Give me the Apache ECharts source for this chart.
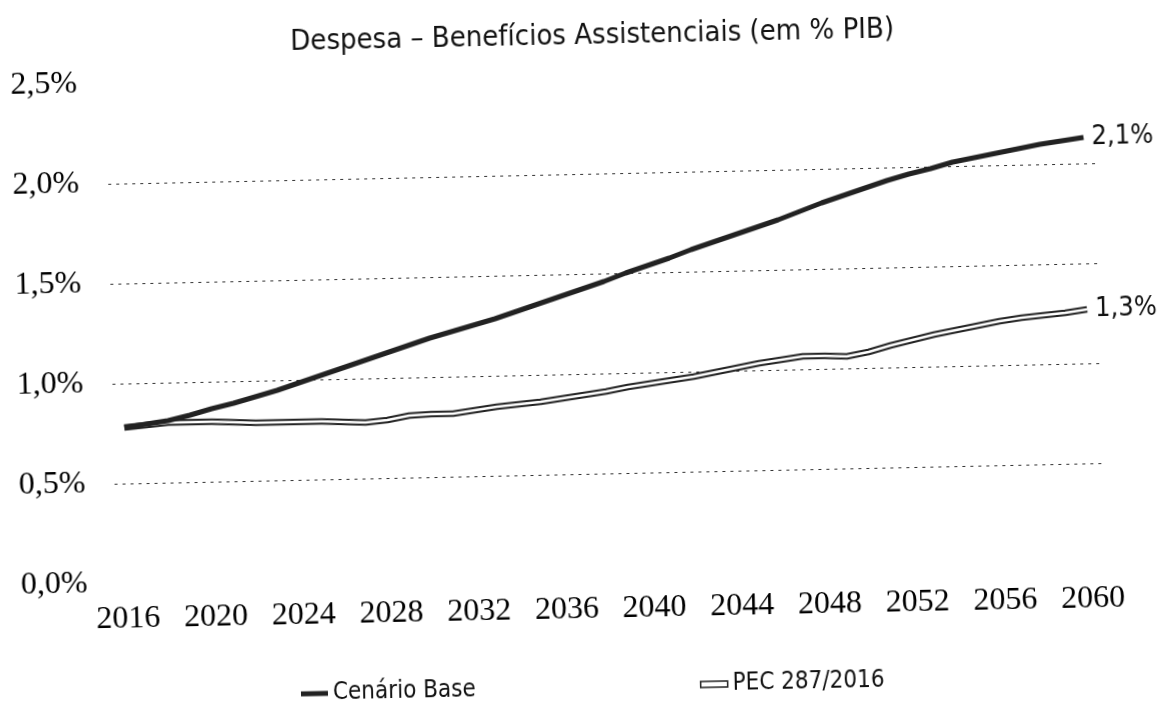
<!DOCTYPE html>
<html>
<head>
<meta charset="utf-8">
<title>Despesa – Benefícios Assistenciais</title>
<script src="https://cdn.jsdelivr.net/npm/echarts@6/dist/echarts.min.js"></script>
<style>
  html, body { margin: 0; padding: 0; background: #fff; }
  /* the scanned original sits a little crooked on the page */
  #chart { width: 1159px; height: 715px; transform: rotate(-1.2deg); }
</style>
</head>
<body>
<div id="chart"></div>
<script>
const YEARS = [
  '2016', '2017', '2018', '2019', '2020', '2021', '2022', '2023', '2024',
  '2025', '2026', '2027', '2028', '2029', '2030', '2031', '2032', '2033',
  '2034', '2035', '2036', '2037', '2038', '2039', '2040', '2041', '2042',
  '2043', '2044', '2045', '2046', '2047', '2048', '2049', '2050', '2051',
  '2052', '2053', '2054', '2055', '2056', '2057', '2058', '2059', '2060'
];

// % do PIB
const BASE = [
  0.78, 0.795, 0.81, 0.835, 0.865, 0.89, 0.92, 0.95, 0.985,
  1.02, 1.055, 1.09, 1.125, 1.16, 1.195, 1.225, 1.255, 1.285,
  1.32, 1.355, 1.39, 1.425, 1.46, 1.50, 1.535, 1.57, 1.61,
  1.645, 1.68, 1.715, 1.75, 1.79, 1.83, 1.865, 1.90, 1.935,
  1.965, 1.99, 2.02, 2.04, 2.06, 2.08, 2.10, 2.115, 2.13
];

const PEC = [
  0.78, 0.79, 0.80, 0.80, 0.80, 0.795, 0.79, 0.79, 0.79,
  0.79, 0.785, 0.78, 0.79, 0.81, 0.815, 0.815, 0.83, 0.845,
  0.855, 0.865, 0.88, 0.895, 0.91, 0.93, 0.945, 0.96, 0.975,
  0.995, 1.015, 1.035, 1.05, 1.065, 1.065, 1.06, 1.08, 1.11,
  1.135, 1.16, 1.18, 1.20, 1.22, 1.235, 1.245, 1.255, 1.27
];

const TITLE = 'Despesa – Benefícios Assistenciais (em % PIB)';
const NAME_BASE = 'Cenário Base';
const NAME_PEC = 'PEC 287/2016';

const NARROW = '"Liberation Sans Narrow", "Arial Narrow", "DejaVu Sans Condensed", sans-serif';
const SERIF = '"Liberation Serif", "Times New Roman", serif';
const INK = '#222';

const pct = (v) => v.toFixed(1).replace('.', ',') + '%';

const initOption = () => {
  return {
    backgroundColor: '#fff',
    animation: false,
    title: {
      text: TITLE,
      left: 297,
      top: 22,
      padding: 0,
      textStyle: { fontFamily: NARROW, fontSize: 29, fontWeight: 'normal', color: '#111' }
    },
    legend: [
      {
        data: [{ name: NAME_BASE, icon: 'rect', itemStyle: { color: INK } }],
        left: 289,
        top: 671,
        itemWidth: 27,
        itemHeight: 5,
        textStyle: { fontFamily: NARROW, fontSize: 24, color: '#111' }
      },
      {
        data: [{ name: NAME_PEC, icon: 'rect', itemStyle: { color: '#fff', borderColor: INK, borderWidth: 1.5 } }],
        left: 688,
        top: 670,
        itemWidth: 27,
        itemHeight: 6,
        textStyle: { fontFamily: NARROW, fontSize: 24, color: '#111' }
      }
    ],
    grid: {
      left: 112,
      right: 60,
      top: 74,
      bottom: 141
    },
    xAxis: {
      type: 'category',
      data: YEARS,
      boundaryGap: true,
      axisLine: { show: false },
      axisTick: { show: false },
      axisLabel: {
        interval: 3,
        margin: 20,
        fontFamily: SERIF,
        fontSize: 32,
        color: '#000'
      }
    },
    yAxis: {
      type: 'value',
      min: 0,
      max: 2.5,
      interval: 0.5,
      axisLine: { show: false },
      axisTick: { show: false },
      axisLabel: {
        margin: 29,
        formatter: pct,
        fontFamily: SERIF,
        fontSize: 32,
        color: '#000'
      },
      splitLine: {
        lineStyle: {
          // no line at 0% and 2,5%
          color: ['rgba(0,0,0,0)', '#333', '#333', '#333', '#333', 'rgba(0,0,0,0)'],
          width: 1,
          type: [3, 5]
        }
      }
    },
    series: [
      {
        // dark outline of the double line
        type: 'line',
        name: NAME_PEC,
        data: PEC,
        showSymbol: false,
        lineStyle: { color: INK, width: 6.5 },
        endLabel: {
          show: true,
          distance: 8,
          formatter: (p) => pct(p.value),
          fontFamily: NARROW,
          fontSize: 27,
          color: '#111'
        }
      },
      {
        // white core of the double line
        type: 'line',
        name: 'PEC (interior)',
        data: PEC,
        showSymbol: false,
        silent: true,
        lineStyle: { color: '#fff', width: 2.5 }
      },
      {
        type: 'line',
        name: NAME_BASE,
        data: BASE,
        showSymbol: false,
        lineStyle: { color: INK, width: 5 },
        endLabel: {
          show: true,
          distance: 8,
          formatter: (p) => pct(p.value),
          fontFamily: NARROW,
          fontSize: 27,
          color: '#111'
        }
      }
    ]
  };
};

const myChart = echarts.init(document.getElementById('chart'), null, { renderer: 'canvas' });
myChart.setOption(initOption(), true);
</script>
</body>
</html>
